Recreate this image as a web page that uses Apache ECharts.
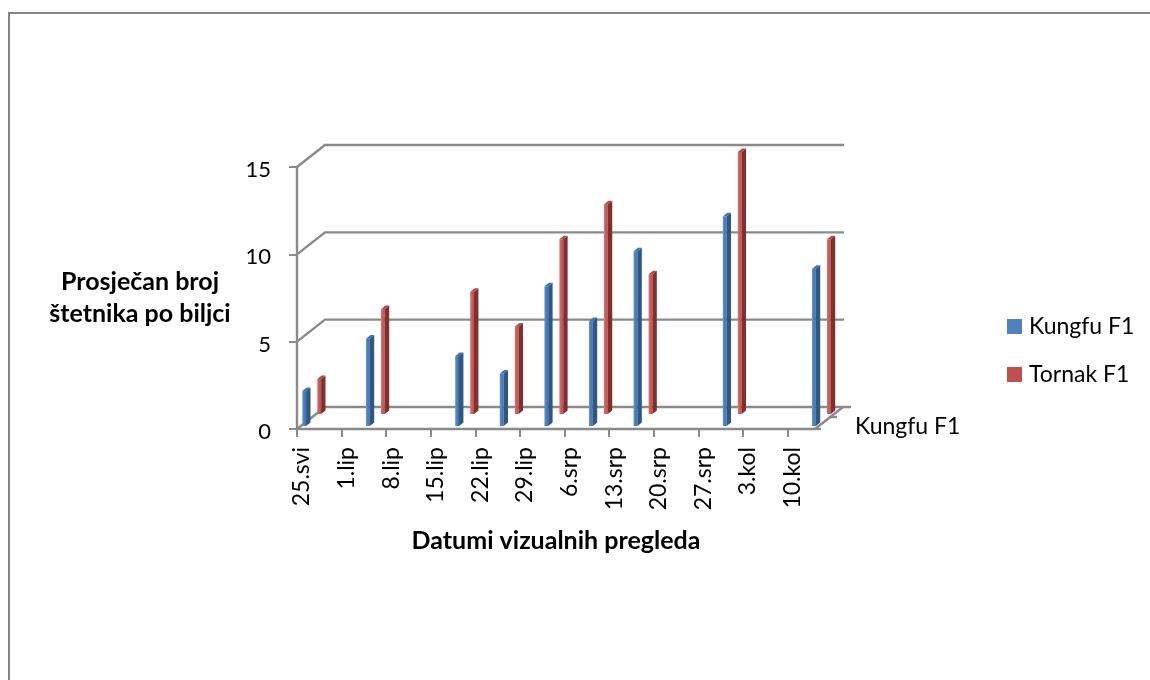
<!DOCTYPE html>
<html><head><meta charset="utf-8">
<style>html,body{margin:0;padding:0;background:#fff}#c{width:1150px;height:680px}</style>
<script src="https://cdn.jsdelivr.net/npm/echarts@6/dist/echarts.min.js"></script>
</head><body><div id="c"></div>
<script>
const tickDays = [0,7,14,21,28,35,42,49,56,63,70,77];
const tickLabels = ['25.svi','1.lip','8.lip','15.lip','22.lip','29.lip','6.srp','13.srp','20.srp','27.srp','3.kol','10.kol'];
const visitDays = [0,10,24,31,38,45,52,66,80];
const kungfuValues = [2,5,4,3,8,6,10,12,9];
const tornakValues = [2,6,7,5,10,12,8,15,10];
const yTicks = [0,5,10,15];
const seriesNames = ['Kungfu F1','Tornak F1'];
const FONT = 'Lato, Carlito, sans-serif';
const LINE = '#8a8a8a';
const DX = 28, DY = -22, RIGHT_DAY = 81.3;

function wallItem(params, api){
  const v = api.value(0);
  const a = api.coord([0, v]);
  const e = api.coord([RIGHT_DAY, v]);
  const st = {stroke: LINE, lineWidth: 2.4, fill: null};
  const kids = [
    {type:'polyline', shape:{points:[[a[0],a[1]],[a[0]+DX,a[1]+DY],[e[0]+DX+(v===0?8:1),e[1]+DY]]}, style:st},
  ];
  if (v === 0) {
    kids.push({type:'line', shape:{x1:e[0],y1:e[1],x2:e[0]+DX,y2:e[1]+DY}, style:st});
    kids.push({type:'line', shape:{x1:e[0]+14,y1:e[1]-12,x2:e[0]+22,y2:e[1]-12}, style:st});
    kids.push({type:'line', shape:{x1:e[0],y1:e[1],x2:e[0]+6,y2:e[1]}, style:st});
  }
  return {type:'group', children:kids};
}

function barMaker(offX, offY, light, mid, dark, topCol){
  return function(params, api){
    const day = api.value(0), val = api.value(1);
    const t = api.coord([day, val]);
    const b = api.coord([day, 0]);
    const x = t[0] + offX, w = 3.8, d = 4.4, r = 3.6;
    const yt = t[1] + offY, yb = b[1] + offY;
    return {type:'group', children:[
      {type:'polygon', shape:{points:[[x,yt],[x+w,yt],[x+w,yb],[x,yb]]},
        style:{fill:new echarts.graphic.LinearGradient(0,0,1,0,[{offset:0,color:light},{offset:1,color:mid}])}},
      {type:'polygon', shape:{points:[[x+w,yt],[x+w+d,yt-r],[x+w+d,yb-r],[x+w,yb]]}, style:{fill:dark}},
      {type:'polygon', shape:{points:[[x,yt],[x+d,yt-r],[x+w+d,yt-r],[x+w,yt]]}, style:{fill:topCol}}
    ]};
  };
}

const chart = echarts.init(document.getElementById('c'));
chart.setOption({
  animation:false,
  backgroundColor:'#fff',
  textStyle:{fontFamily:FONT},
  graphic:[
    {type:'polyline', silent:true, z:-10, shape:{points:[[9,680],[9,13],[1150,13]]}, style:{fill:null,stroke:'#868686',lineWidth:2}},
    {type:'text', left:855, top:415, silent:true, style:{text:seriesNames[0], fontFamily:FONT, fontSize:23, fill:'#000'}}
  ],
  grid:{left:297, top:167, width:518, height:262, containLabel:false},
  legend:{
    orient:'vertical', left:1007, top:315, padding:0, icon:'rect', itemWidth:15, itemHeight:15, itemGap:25,
    textStyle:{fontFamily:FONT, fontSize:23, color:'#000', padding:[0,0,0,2]},
    data:seriesNames
  },
  xAxis:{
    type:'value', min:0, max:RIGHT_DAY, interval:7, splitLine:{show:false},
    name:'Datumi vizualnih pregleda', nameLocation:'middle', nameGap:99,
    nameTextStyle:{fontFamily:FONT, fontSize:25, fontWeight:'bold', color:'#000'},
    axisLine:{show:true, onZero:false, lineStyle:{color:LINE,width:2.4}},
    axisTick:{show:true, inside:false, length:8, customValues:tickDays, lineStyle:{color:LINE,width:2}},
    axisLabel:{rotate:90, margin:18, fontFamily:FONT, fontSize:23, color:'#000', customValues:tickDays,
      verticalAlign:'top', lineHeight:10,
      formatter:function(v){ return tickLabels[tickDays.indexOf(v)] || ''; }}
  },
  yAxis:{
    type:'value', min:0, max:15, interval:5, splitLine:{show:false},
    name:'Prosječan broj\nštetnika po biljci', nameLocation:'middle', nameRotate:0, nameGap:157,
    nameTextStyle:{fontFamily:FONT, fontSize:25, fontWeight:'bold', color:'#000', lineHeight:32, align:'center'},
    axisLine:{show:true, lineStyle:{color:LINE,width:2.4}},
    axisTick:{show:true, length:8, lineStyle:{color:LINE,width:2}},
    axisLabel:{margin:26, fontFamily:FONT, fontSize:22, color:'#000', verticalAlign:'top', lineHeight:6}
  },
  series:[
    {name:seriesNames[0], type:'custom', z:5, itemStyle:{color:'#4f81bd'}, renderItem:barMaker(5.3,-3,'#5b93d6','#3c6ea8','#2f5782','#3e73b0'),
      encode:{x:0,y:1}, data:visitDays.map((d,i)=>[d,kungfuValues[i]])},
    {name:seriesNames[1], type:'custom', z:4, itemStyle:{color:'#c0504d'}, renderItem:barMaker(20.3,-15,'#d9706c','#bb4c49','#7f302e','#b04744'),
      encode:{x:0,y:1}, data:visitDays.map((d,i)=>[d,tornakValues[i]])},
    {name:'walls', type:'custom', z:1, silent:true, renderItem:wallItem, encode:{y:0}, data:yTicks.map(v=>[v])}
  ]
});
</script>
</body></html>
